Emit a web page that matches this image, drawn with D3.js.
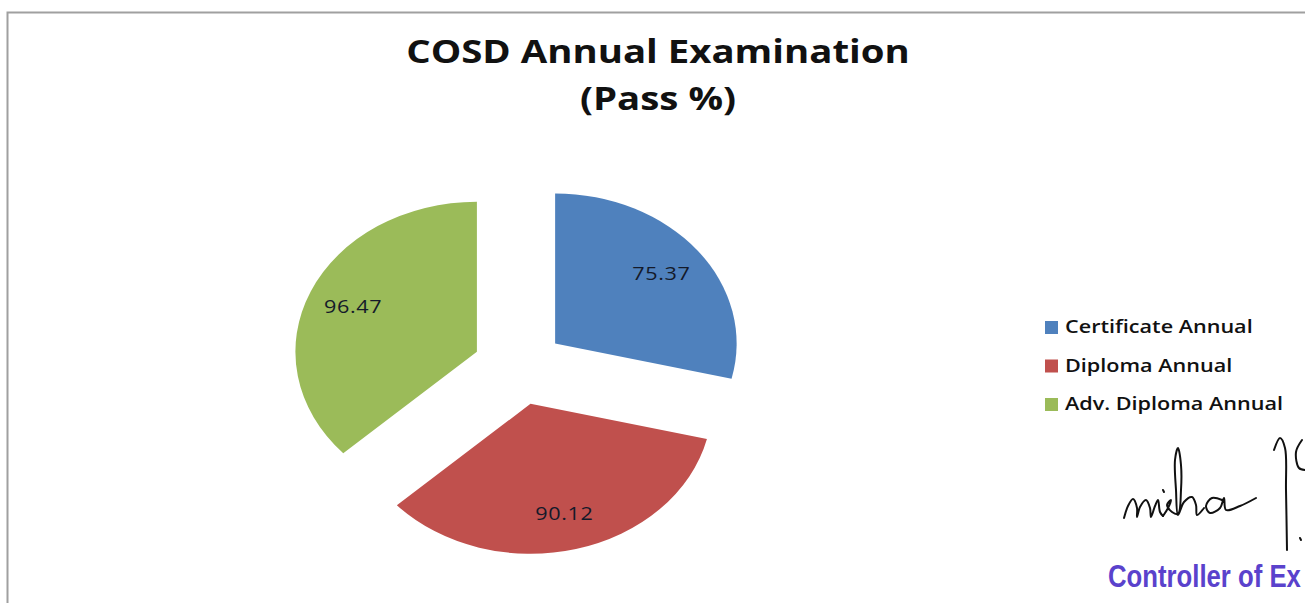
<!DOCTYPE html>
<html>
<head>
<meta charset="utf-8">
<script src="https://cdn.jsdelivr.net/npm/d3@7"></script>
<style>
  body { margin: 0; background: #fff; overflow: hidden; }
  svg { display: block; }
</style>
</head>
<body>
<div id="chart"></div>
<script>
// Chart data
const categories = ["Certificate Annual", "Diploma Annual", "Adv. Diploma Annual"];
const passPct = [75.37, 90.12, 96.47];
const colors = ["#4F81BD", "#C0504D", "#9BBB59"];
const titleLines = ["COSD Annual Examination", "(Pass %)"];

const W = 1305, H = 603;
// the whole picture is stretched horizontally by about this much
const sx = 1.2;

const svg = d3.select("#chart").append("svg")
    .attr("width", W)
    .attr("height", H);

// Outer chart frame (runs off the right/bottom edge)
svg.append("rect")
    .attr("x", 7.5).attr("y", 12.5)
    .attr("width", W + 20).attr("height", H + 20)
    .attr("fill", "#fff")
    .attr("stroke", "#a0a0a0")
    .attr("stroke-width", 2);

// Title
titleLines.forEach((t, i) => {
  svg.append("text")
      .attr("transform", `translate(658,${63 + i * 47}) scale(${sx},1)`)
      .attr("text-anchor", "middle")
      .attr("font-family", "'Open Sans', sans-serif")
      .attr("font-weight", "bold")
      .attr("font-size", 32)
      .attr("fill", "#111")
      .text(t);
});

// Pie (stretched horizontally, exploded)
const R = 150;
const explode = 38;
const pie = d3.pie().sort(null).value(d => d.v);
const arcs = pie(passPct.map((v, i) => ({v, i})));
const arc = d3.arc().innerRadius(0).outerRadius(R);
const labelArc = d3.arc().innerRadius(113).outerRadius(113);

const pieG = svg.append("g")
    .attr("transform", "translate(519,367)");

arcs.forEach(a => {
  const mid = (a.startAngle + a.endAngle) / 2;
  const dx = explode * Math.sin(mid);
  const dy = -explode * Math.cos(mid);
  pieG.append("g")
      .attr("transform", `scale(${sx + 0.01},1) translate(${dx},${dy})`)
    .append("path")
      .attr("d", arc(a))
      .attr("fill", colors[a.data.i]);
});

// Data labels
arcs.forEach(a => {
  const mid = (a.startAngle + a.endAngle) / 2;
  const dx = explode * Math.sin(mid);
  const dy = -explode * Math.cos(mid);
  const c = labelArc.centroid(a);
  pieG.append("text")
      .attr("transform", `translate(${(c[0] + dx) * sx},${c[1] + dy}) scale(${sx},1)`)
      .attr("dy", "0.35em")
      .attr("text-anchor", "middle")
      .attr("font-family", "'Open Sans', sans-serif")
      .attr("font-size", 18)
      .attr("letter-spacing", 0.5)
      .attr("fill", "#141a2a")
      .text(a.data.v.toFixed(2));
});

// Legend
const legend = svg.append("g")
    .attr("transform", "translate(1045,327)");

categories.forEach((cat, i) => {
  legend.append("rect")
      .attr("x", 0)
      .attr("y", i * 38.5 - 6)
      .attr("width", 13)
      .attr("height", 13)
      .attr("fill", colors[i]);
  legend.append("text")
      .attr("transform", `translate(20,${i * 38.5}) scale(1.2,1)`)
      .attr("dy", "0.35em")
      .attr("font-family", "'Open Sans', sans-serif")
      .attr("font-weight", 600)
      .attr("font-size", 18)
      .attr("fill", "#111")
      .text(cat);
});

// Signature scribble and stamp text
const sigLine = d3.line().curve(d3.curveCatmullRom);
const sigStroke = pts => svg.append("path")
    .attr("d", sigLine(pts))
    .attr("fill", "none")
    .attr("stroke", "#111")
    .attr("stroke-width", 2)
    .attr("stroke-linecap", "round");

// "ni" humps
sigStroke([[1124, 518], [1128, 506], [1133, 499], [1137, 508], [1137, 517],
           [1140, 507], [1146, 500], [1150, 508], [1151, 517], [1155, 506],
           [1158, 500], [1160, 512], [1163, 516]]);
// i dot
sigStroke([[1163, 490], [1164, 492]]);
// "s" + tall "h"
sigStroke([[1163, 516], [1168, 508], [1171, 500], [1167, 505], [1172, 512],
           [1178, 514], [1181, 490], [1181, 465], [1178, 448], [1175, 460],
           [1176, 490], [1178, 515], [1184, 502], [1192, 497], [1196, 505],
           [1197, 515], [1204, 508]]);
// "a"
sigStroke([[1222, 500], [1212, 498], [1206, 506], [1210, 513], [1220, 508],
           [1224, 498], [1226, 510], [1240, 506], [1256, 498]]);
// "Y" stroke
sigStroke([[1274, 450], [1280, 438], [1285, 448], [1286, 490], [1287, 550]]);
sigStroke([[1302, 440], [1296, 452], [1299, 468], [1305, 470]]);
sigStroke([[1300, 538], [1301, 540]]);

svg.append("text")
    .attr("transform", "translate(1108,587) scale(0.83,1)")
    .attr("font-family", "'Liberation Sans Narrow', 'Liberation Sans', sans-serif")
    .attr("font-weight", "bold")
    .attr("font-size", 31)
    .attr("fill", "#5a42cc")
    .text("Controller of Ex");
</script>
</body>
</html>
